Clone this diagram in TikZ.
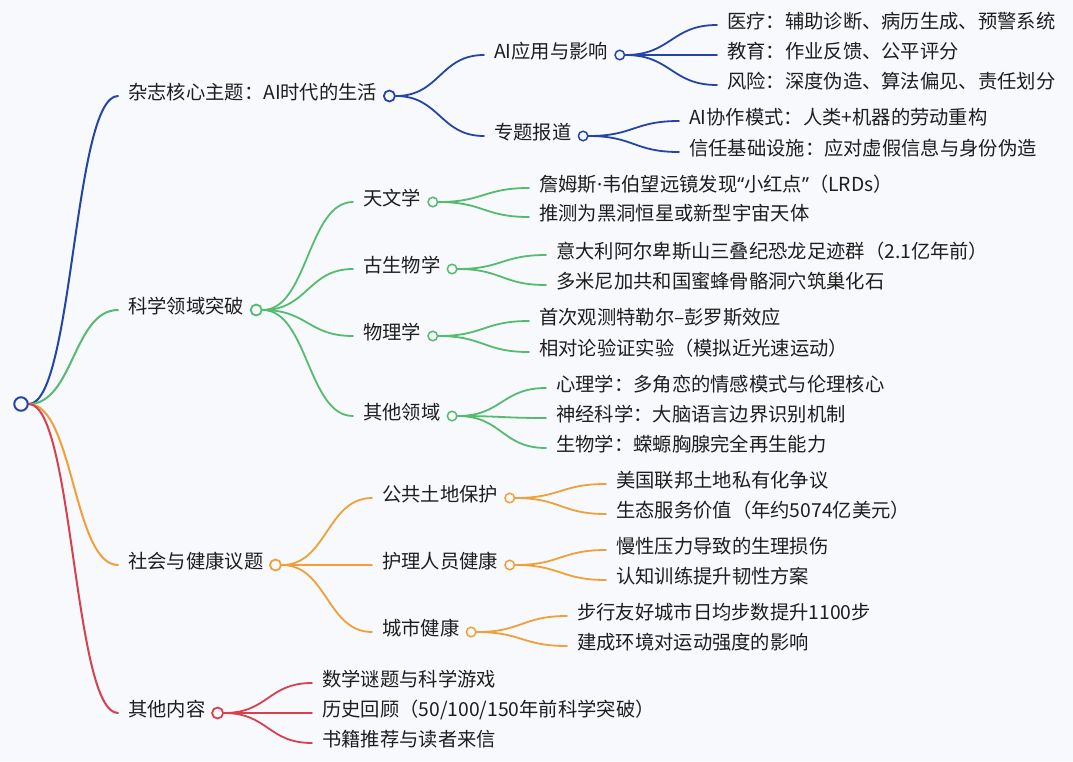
\documentclass[tikz,border=0pt]{standalone}
\usepackage{fontspec}
\setmainfont{Noto Sans CJK SC}
\newfontfamily\latf{Noto Sans}
\usetikzlibrary{calc}
\definecolor{bgc}{HTML}{F7F9FC}
\definecolor{cblue}{HTML}{2445A6}
\definecolor{cgreen}{HTML}{55BB6E}
\definecolor{corange}{HTML}{EFA038}
\definecolor{cred}{HTML}{D8404E}
\definecolor{ctext}{HTML}{1E1E1E}
\pgfdeclarelayer{bglayer}
\pgfsetlayers{bglayer,main}
\tikzset{
  lbl/.style={anchor=west, inner xsep=0pt, inner ysep=0pt, text height=0.88em, text depth=0.12em,
    font=\fontsize{19.3}{23}\selectfont, text=ctext},
  rootdot/.style={circle, draw=cblue, line width=2pt, fill=bgc, minimum size=13.5pt, inner sep=0pt},
  dotA/.style={circle, draw=#1, line width=1.8pt, fill=bgc, minimum size=11pt, inner sep=0pt},
  dotB/.style={circle, draw=#1, line width=1.5pt, fill=bgc, minimum size=9.5pt, inner sep=0pt},
  link/.style={to path={let \p1=(\tikztostart), \p2=(\tikztotarget) in
     .. controls ({(\x1+\x2-10pt)/2},\y1) and ({(\x1+\x2-10pt)/2},\y2) .. (\x2-10pt,\y2)}},
  edgeA/.style={draw=#1, line width=2pt, line cap=round},
  edgeB/.style={draw=#1, line width=1.8pt, line cap=round},
}
\begin{document}
\begin{tikzpicture}[x=1pt,y=-1pt]
\useasboundingbox (0,0) rectangle (1073,761);
% root
\node[rootdot] (R) at (21,404) {};
% level 1
\node[lbl] (A) at (128,96) {杂志核心主题：AI时代的生活};
\node[lbl] (B) at (128,310) {科学领域突破};
\node[lbl] (C) at (128,565) {社会与健康议题};
\node[lbl] (D) at (128,713) {其他内容};
\node[dotA=cblue] (Ac) at ([xshift=12pt]A.east) {};
\node[dotA=cgreen] (Bc) at ([xshift=12pt]B.east) {};
\node[dotA=corange] (Cc) at ([xshift=12pt]C.east) {};
\node[dotA=cred] (Dc) at ([xshift=12pt]D.east) {};
% level 2
\node[lbl] (A1) at (494,55) {AI应用与影响};
\node[lbl] (A2) at (494,136) {专题报道};
\node[lbl] (B1) at (363,202) {天文学};
\node[lbl] (B2) at (363,269) {古生物学};
\node[lbl] (B3) at (363,336) {物理学};
\node[lbl] (B4) at (363,416) {其他领域};
\node[lbl] (C1) at (382,498) {公共土地保护};
\node[lbl] (C2) at (382,565) {护理人员健康};
\node[lbl] (C3) at (382,632) {城市健康};
\node[lbl] (D1) at (322,683) {数学谜题与科学游戏};
\node[lbl] (D2) at (322,713) {历史回顾（50/100/150年前科学突破）};
\node[lbl] (D3) at (322,743) {书籍推荐与读者来信};
\node[dotB=cblue] (A1c) at ([xshift=11.5pt]A1.east) {};
\node[dotB=cblue] (A2c) at ([xshift=11.5pt]A2.east) {};
\node[dotB=cgreen] (B1c) at ([xshift=11.5pt]B1.east) {};
\node[dotB=cgreen] (B2c) at ([xshift=11.5pt]B2.east) {};
\node[dotB=cgreen] (B3c) at ([xshift=11.5pt]B3.east) {};
\node[dotB=cgreen] (B4c) at ([xshift=11.5pt]B4.east) {};
\node[dotB=corange] (C1c) at ([xshift=11.5pt]C1.east) {};
\node[dotB=corange] (C2c) at ([xshift=11.5pt]C2.east) {};
\node[dotB=corange] (C3c) at ([xshift=11.5pt]C3.east) {};
% level 3
\node[lbl] (A11) at (727,25) {医疗：辅助诊断、病历生成、预警系统};
\node[lbl] (A12) at (727,55) {教育：作业反馈、公平评分};
\node[lbl] (A13) at (727,85) {风险：深度伪造、算法偏见、责任划分};
\node[lbl] (A21) at (689,121) {AI协作模式：人类+机器的劳动重构};
\node[lbl] (A22) at (689,152) {信任基础设施：应对虚假信息与身份伪造};
\node[lbl] (B11) at (539,188) {詹姆斯{\latf ·}韦伯望远镜发现{\latf “}小红点{\latf ”}（LRDs）};
\node[lbl] (B12) at (539,217) {推测为黑洞恒星或新型宇宙天体};
\node[lbl] (B21) at (556,255) {意大利阿尔卑斯山三叠纪恐龙足迹群（2.1亿年前）};
\node[lbl] (B22) at (556,285) {多米尼加共和国蜜蜂骨骼洞穴筑巢化石};
\node[lbl] (B31) at (539,321) {首次观测特勒尔–彭罗斯效应};
\node[lbl] (B32) at (539,352) {相对论验证实验（模拟近光速运动）};
\node[lbl] (B41) at (556,388) {心理学：多角恋的情感模式与伦理核心};
\node[lbl] (B42) at (556,418) {神经科学：大脑语言边界识别机制};
\node[lbl] (B43) at (556,448) {生物学：蝾螈胸腺完全再生能力};
\node[lbl] (C11) at (616,484) {美国联邦土地私有化争议};
\node[lbl] (C12) at (616,514) {生态服务价值（年约5074亿美元）};
\node[lbl] (C21) at (616,550) {慢性压力导致的生理损伤};
\node[lbl] (C22) at (616,580) {认知训练提升韧性方案};
\node[lbl] (C31) at (577,616) {步行友好城市日均步数提升1100步};
\node[lbl] (C32) at (577,646) {建成环境对运动强度的影响};
\begin{pgfonlayer}{bglayer}
\fill[bgc] (0,0) rectangle (1073,761);
% root edges
\draw[edgeA=cblue] (R.east) to[link] (A.west);
\draw[edgeA=cgreen] (R.east) to[link] (B.west);
\draw[edgeA=corange] (R.east) to[link] (C.west);
\draw[edgeA=cred] (R.east) to[link] (D.west);
% level 1 -> 2
\foreach \p/\c/\col in {Ac/A1/cblue, Ac/A2/cblue,
   Bc/B1/cgreen, Bc/B2/cgreen, Bc/B3/cgreen, Bc/B4/cgreen,
   Cc/C1/corange, Cc/C2/corange, Cc/C3/corange,
   Dc/D1/cred, Dc/D2/cred, Dc/D3/cred}
  \draw[edgeB=\col] (\p.east) to[link] (\c.west);
% level 2 -> 3
\foreach \p/\c/\col in {A1c/A11/cblue, A1c/A12/cblue, A1c/A13/cblue,
   A2c/A21/cblue, A2c/A22/cblue,
   B1c/B11/cgreen, B1c/B12/cgreen, B2c/B21/cgreen, B2c/B22/cgreen,
   B3c/B31/cgreen, B3c/B32/cgreen, B4c/B41/cgreen, B4c/B42/cgreen, B4c/B43/cgreen,
   C1c/C11/corange, C1c/C12/corange, C2c/C21/corange, C2c/C22/corange,
   C3c/C31/corange, C3c/C32/corange}
  \draw[edgeB=\col] (\p.east) to[link] (\c.west);
\end{pgfonlayer}
\end{tikzpicture}
\end{document}
